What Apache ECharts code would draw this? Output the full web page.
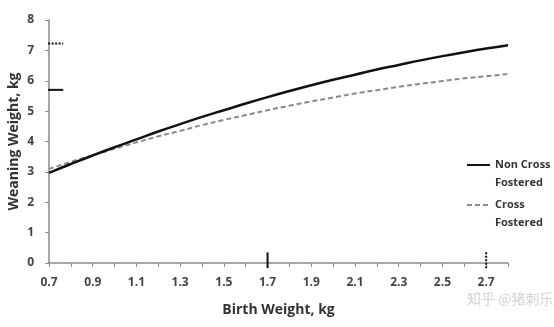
<!DOCTYPE html>
<html>
<head>
<meta charset="utf-8">
<script src="https://cdn.jsdelivr.net/npm/echarts@6/dist/echarts.min.js"></script>
<style>html,body{margin:0;padding:0;background:#fff;}#c{width:554px;height:327px;}</style>
</head>
<body>
<div id="c"></div>
<script>
const birthWeight = [0.7,0.8,0.9,1.0,1.1,1.2,1.3,1.4,1.5,1.6,1.7,1.8,1.9,2.0,2.1,2.2,2.3,2.4,2.5,2.6,2.7,2.8];
const nonCrossFostered = [2.97,3.26,3.54,3.81,4.07,4.33,4.57,4.81,5.03,5.25,5.46,5.66,5.85,6.03,6.20,6.37,6.52,6.67,6.81,6.94,7.06,7.17];
const crossFostered = [3.10,3.33,3.55,3.76,3.97,4.17,4.35,4.54,4.71,4.87,5.03,5.18,5.32,5.45,5.58,5.69,5.80,5.90,5.99,6.08,6.15,6.22];
const xTickLabels = ['0.7','0.9','1.1','1.3','1.5','1.7','1.9','2.1','2.3','2.5','2.7'];
const yTickLabels = ['0','1','2','3','4','5','6','7','8'];
const seriesNames = ['Non Cross Fostered','Cross Fostered'];
const legendLabels = ['Non Cross\nFostered','Cross\nFostered'];
// mean values marked on the axes
const meanBirth = [1.7, 2.7];        // non cross, cross
const meanWeaning = [5.7, 7.23];     // non cross, cross
const markSpanX = [0.68, 0.765];
const markSpanY = [-0.17, 0.35];

const chart = echarts.init(document.getElementById('c'), null, {renderer:'canvas'});
const font = '"Open Sans", "Noto Sans", sans-serif';
function segH(y){ return [[markSpanX[0], y],[markSpanX[1], y]]; }
function segV(x){ return [[x, markSpanY[0]],[x, markSpanY[1]]]; }
const markBase = {type:'line', symbol:'none', clip:false, silent:true, z:5, animation:false};

function legendFor(i, top){
  return {
    orient:'vertical', left:461, top:top, itemGap:0, itemWidth:23, itemHeight:10,
    data:[seriesNames[i]],
    itemStyle:{color:'rgba(0,0,0,0)', borderWidth:0, opacity:0},
    textStyle:{fontFamily:font, fontWeight:'bold', fontSize:11, color:'#333', lineHeight:18},
    formatter:function(n){ return '\n' + legendLabels[seriesNames.indexOf(n)]; }
  };
}

chart.setOption({
  animation:false,
  grid:{left:49, right:46, top:20, bottom:64, containLabel:false, outerBoundsMode:'none'},
  xAxis:{
    type:'value', min:0.7, max:2.8, interval:0.1,
    name:'Birth Weight, kg', nameLocation:'middle', nameGap:40, nameMoveOverlap:false,
    nameTextStyle:{fontFamily:font, fontWeight:'bold', fontSize:14, color:'#333'},
    axisLine:{show:true, onZero:false, lineStyle:{color:'#8c8c8c', width:1.5}},
    axisTick:{show:true, length:4, inside:false, lineStyle:{color:'#8c8c8c', width:1}},
    splitLine:{show:false},
    axisLabel:{
      fontFamily:font, fontWeight:'bold', fontSize:12, color:'#444', margin:14,
      showMaxLabel:true, showMinLabel:true,
      formatter:function(v){ const s=(Math.round(v*10)/10).toFixed(1); return xTickLabels.indexOf(s)>=0 ? s : ''; }
    }
  },
  yAxis:{
    type:'value', min:0, max:8, interval:1,
    name:'Weaning Weight, kg', nameLocation:'middle', nameGap:28, nameMoveOverlap:false,
    nameTextStyle:{fontFamily:font, fontWeight:'bold', fontSize:14, color:'#333'},
    axisLine:{show:true, lineStyle:{color:'#8c8c8c', width:1.5}},
    axisTick:{show:true, length:4, lineStyle:{color:'#8c8c8c', width:1}},
    splitLine:{show:false},
    axisLabel:{
      fontFamily:font, fontWeight:'bold', fontSize:12, color:'#444', margin:15,
      formatter:function(v){ const s=String(Math.round(v)); return yTickLabels.indexOf(s)>=0 ? s : ''; }
    }
  },
  legend:[legendFor(0, 133), legendFor(1, 173)],
  graphic:[{
    type:'text', left:467, top:292, silent:true,
    style:{text:'知乎 @猪刺乐', fontFamily:'"Noto Sans CJK SC", sans-serif', fontSize:14, fill:'#d2d2d2'}
  }],
  series:[
    {name:seriesNames[0], type:'line', symbol:'none', smooth:true, z:4,
     data:birthWeight.map((x,i)=>[x, nonCrossFostered[i]]),
     lineStyle:{color:'#111', width:2.5}, itemStyle:{color:'rgba(0,0,0,0)'}},
    {name:seriesNames[1], type:'line', symbol:'none', smooth:true, z:3,
     data:birthWeight.map((x,i)=>[x, crossFostered[i]]),
     lineStyle:{color:'#8a8a8a', width:2, type:[5,3]}, itemStyle:{color:'rgba(0,0,0,0)'}},
    Object.assign({}, markBase, {name:'m1', data:segH(meanWeaning[0]), lineStyle:{color:'#111', width:2}}),
    Object.assign({}, markBase, {name:'m2', data:segH(meanWeaning[1]), lineStyle:{color:'#111', width:2, type:[2,1.5]}}),
    Object.assign({}, markBase, {name:'m3', data:segV(meanBirth[0]), lineStyle:{color:'#111', width:2}}),
    Object.assign({}, markBase, {name:'m4', data:segV(meanBirth[1]), lineStyle:{color:'#111', width:2, type:[2,1.5]}})
  ]
});
</script>
</body>
</html>
